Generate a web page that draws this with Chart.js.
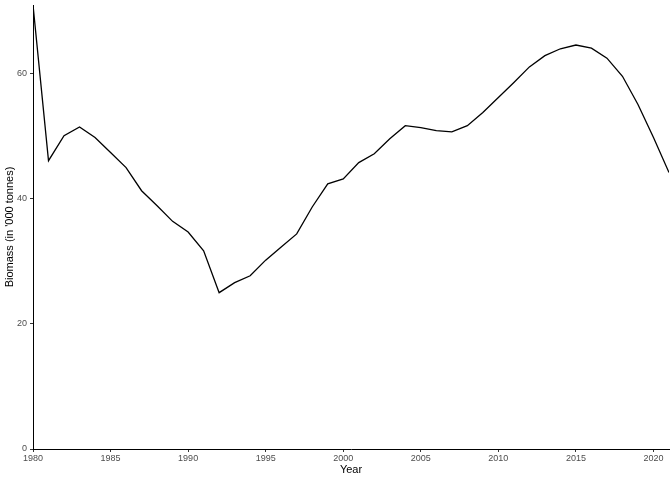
<!DOCTYPE html>
<html>
<head>
<meta charset="utf-8">
<script src="https://cdn.jsdelivr.net/npm/chart.js@4/dist/chart.umd.min.js"></script>
<style>
  html, body { margin: 0; padding: 0; background: #fff; }
  #wrap { width: 672px; height: 480px; }
</style>
</head>
<body>
<div id="wrap"><canvas id="chart" width="672" height="480"></canvas></div>
<script>
// biomass series
const years = [1980, 1981, 1982, 1983, 1984, 1985, 1986, 1987, 1988, 1989,
  1990, 1991, 1992, 1993, 1994, 1995, 1996, 1997, 1998, 1999,
  2000, 2001, 2002, 2003, 2004, 2005, 2006, 2007, 2008, 2009,
  2010, 2011, 2012, 2013, 2014, 2015, 2016, 2017, 2018, 2019,
  2020, 2021];
const biomass = [71.0, 46.1, 50.1, 51.5, 49.8, 47.4, 45.0, 41.3, 38.9, 36.4,
  34.7, 31.7, 25.0, 26.6, 27.7, 30.2, 32.3, 34.4, 38.7, 42.4,
  43.2, 45.8, 47.2, 49.6, 51.7, 51.4, 50.9, 50.7, 51.7, 53.8,
  56.2, 58.6, 61.1, 62.9, 64.0, 64.6, 64.1, 62.5, 59.6, 55.1,
  49.8, 44.2];
const xTicks = [1980, 1985, 1990, 1995, 2000, 2005, 2010, 2015, 2020];
const yTicks = [0, 20, 40, 60];

const tickFont = { family: "'Liberation Sans', Arial, sans-serif", size: 9 };
const titleFont = { family: "'Liberation Sans', Arial, sans-serif", size: 11 };

new Chart(document.getElementById("chart").getContext("2d"), {
  type: "line",
  data: {
    datasets: [{
      label: "Biomass",
      data: years.map((y, i) => ({ x: y, y: biomass[i] })),
      borderColor: "#000",
      borderWidth: 1.3,
      pointRadius: 0,
      tension: 0,
      fill: false
    }]
  },
  options: {
    responsive: false,
    animation: false,
    layout: { padding: { top: 5, right: 3, left: 0, bottom: 0 } },
    plugins: { legend: { display: false }, tooltip: { enabled: false } },
    scales: {
      x: {
        type: "linear",
        min: years[0],
        max: years[years.length - 1],
        afterBuildTicks: (scale) => { scale.ticks = xTicks.map(v => ({ value: v })); },
        afterFit: (scale) => { scale.height = 31; },
        ticks: { color: "#4d4d4d", font: tickFont, padding: 1, maxRotation: 0, autoSkip: false,
          callback: (v) => String(v) },
        grid: { display: true, drawOnChartArea: false, drawTicks: true, tickLength: 3, color: "#333" },
        border: { display: true, color: "#000", width: 1 },
        title: { display: true, text: "Year", color: "#000", font: titleFont, padding: { top: 0, bottom: 3 } }
      },
      y: {
        min: 0,
        max: Math.max(...biomass),
        afterBuildTicks: (scale) => { scale.ticks = yTicks.map(v => ({ value: v })); },
        afterFit: (scale) => {
          scale.width = 33;
          scale.paddingTop = 0;
          scale.paddingBottom = 0;
        },
        ticks: { color: "#4d4d4d", font: tickFont, padding: 3 },
        grid: { display: true, drawOnChartArea: false, drawTicks: true, tickLength: 3, color: "#333" },
        border: { display: true, color: "#000", width: 1 },
        title: { display: true, text: "Biomass (in '000 tonnes)", color: "#000", font: titleFont, padding: { top: 3, bottom: 0 } }
      }
    }
  }
});
</script>
</body>
</html>
